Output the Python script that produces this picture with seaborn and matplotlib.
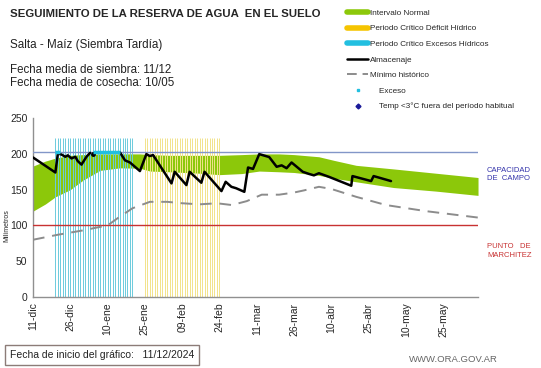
import numpy as np
import pandas as pd
import matplotlib.pyplot as plt
from matplotlib.lines import Line2D
import seaborn as sns

# days counted from 11/12/2024
tick_days = [0, 15, 30, 45, 60, 75, 90, 105, 120, 135, 150, 165]
tick_labels = ["11-dic", "26-dic", "10-ene", "25-ene", "09-feb", "24-feb",
               "11-mar", "26-mar", "10-abr", "25-abr", "10-may", "25-may"]

# intervalo normal (banda verde)
band_days = [0, 5, 9, 15, 20, 27, 35, 43, 47, 55, 67, 75, 84, 91, 99, 105, 115, 121, 130, 145, 162, 179]
band_upper = [183, 190, 194, 198, 199, 200, 200, 200, 199, 198, 198, 198, 199, 200, 200, 199, 196, 191, 184, 179, 173, 167]
band_lower = [120, 130, 140, 150, 163, 177, 180.5, 180, 176, 175, 173, 171, 172.5, 176, 175, 174, 170, 166, 161, 153, 148, 142]

# minimo historico
min_days = [0, 10, 20, 27, 30, 34, 40, 47, 54, 60, 67, 74, 80, 86, 92, 99, 105, 109, 115, 120, 130, 142, 158, 179]
min_vals = [80, 87, 93, 98, 100, 110, 124, 133, 133, 131, 129.5, 131, 128.5, 134, 143, 143, 146, 149, 154, 151, 140, 128.5, 120, 111]

# almacenaje (dos tramos, interrumpidos por el exceso)
alm1_days = [0, 9, 10, 11.5, 13, 14, 15.5, 17, 18, 19.5, 21.5, 23]
alm1_vals = [195, 174, 200.7, 199, 196, 198, 193.7, 196, 190, 185, 196, 201.5]
alm2_days = [35, 37, 39, 43, 45.6, 47, 48.3, 55.7, 57, 61.7, 63, 67.7, 69, 75.8, 77.5, 79.8,
             81.7, 85, 86.5, 88.5, 91, 95, 98, 100, 102, 104, 108.5, 111, 113, 115, 119,
             128, 128.5, 136, 137, 144]
alm2_vals = [202, 191, 188, 176, 199.7, 197, 198.4, 158.8, 175, 156.4, 175, 159.7, 175, 148, 161, 154,
             152, 147, 181, 179, 199.7, 195.6, 182, 184, 180, 188, 175, 172, 170, 173, 168,
             155.5, 169, 162, 169, 162]

# excesos
exc_days = [[9, 11], [24, 35]]
exc_vals = [[202.5, 202.5], [202.5, 202.5]]

# periodos criticos
exc_period = (9, 40)
def_period = (45, 75)
period_top = 222

capacidad = 202
marchitez = 100

sns.set_style("white")
plt.rcParams["font.family"] = ["Liberation Sans", "DejaVu Sans"]

fig = plt.figure(figsize=(5.41, 3.68), dpi=100)
ax = fig.add_axes([0.061, 0.193, 0.8226, 0.486])

green = "#8cc80a"
cyan = "#6ccbdc"
yellow = "#f2e38a"

ax.fill_between(band_days, band_lower, band_upper, color=green, lw=0, zorder=1)
ax.vlines(np.arange(exc_period[0], exc_period[1] + 1), 0, period_top, color=cyan, lw=0.7, zorder=2)
ax.vlines(np.arange(def_period[0], def_period[1] + 1), 0, period_top, color=yellow, lw=0.7, zorder=2)

ax.axhline(capacidad, color="#8296c8", lw=1.0, zorder=3)
ax.axhline(marchitez, color="#c83232", lw=1.0, zorder=3)

sns.lineplot(x=min_days, y=min_vals, ax=ax, color="#8c8c8c", lw=1.4, zorder=4)
ax.lines[-1].set_dashes([6, 4])
sns.lineplot(x=alm1_days, y=alm1_vals, ax=ax, color="black", lw=1.8, zorder=5)
sns.lineplot(x=alm2_days, y=alm2_vals, ax=ax, color="black", lw=1.8, zorder=5)
ax.plot([24], [200], "o", color="black", ms=2.5, zorder=5)
for d, v in zip(exc_days, exc_vals):
    ax.plot(d, v, color="#22bfe0", lw=2.5, zorder=5, solid_capstyle="butt")

ax.set_xlim(0, 179)
ax.set_ylim(0, 250)
ax.set_yticks([0, 50, 100, 150, 200, 250])
ax.set_xticks(tick_days)
ax.set_xticklabels(tick_labels, rotation=90)
ax.tick_params(axis="both", labelsize=7.5, length=3, color="#808080", pad=1)
for s in ["top", "right"]:
    ax.spines[s].set_visible(False)
for s in ["left", "bottom"]:
    ax.spines[s].set_color("#909090")
    ax.spines[s].set_linewidth(1.0)
ax.set_xlabel("")
ax.set_ylabel("Milímetros", fontsize=5)
ax.yaxis.set_label_coords(-0.05, 0.4)

ax.text(1.02, 0.684, "CAPACIDAD\nDE  CAMPO", transform=ax.transAxes, fontsize=5.5,
        color="#3333aa", va="center", ha="left", linespacing=1.25)
ax.text(1.02, 0.257, "PUNTO   DE\nMARCHITEZ", transform=ax.transAxes, fontsize=5.5,
        color="#c83232", va="center", ha="left", linespacing=1.25)

fig.text(10 / 541, 1 - 14 / 368, "SEGUIMIENTO DE LA RESERVA DE AGUA  EN EL SUELO",
         fontsize=8.2, fontweight="bold", va="center")
fig.text(10 / 541, 1 - 45 / 368, "Salta - Maíz (Siembra Tardía)", fontsize=8.4, va="center", color="#222222")
fig.text(10 / 541, 1 - 70 / 368, "Fecha media de siembra: 11/12", fontsize=8.3, va="center", color="#222222")
fig.text(10 / 541, 1 - 83 / 368, "Fecha media de cosecha: 10/05", fontsize=8.3, va="center", color="#222222")

handles = [
    Line2D([], [], color=green, lw=4),
    Line2D([], [], color="#f5c400", lw=4),
    Line2D([], [], color="#22bfe0", lw=4),
    Line2D([], [], color="black", lw=1.8),
    Line2D([], [], color="#8c8c8c", lw=1.4, dashes=[5, 3]),
    Line2D([], [], color="#22bfe0", marker="s", ms=2, lw=0),
    Line2D([], [], color="#1a1a99", marker="D", ms=2.5, lw=0),
]
labels = ["Intervalo Normal", "Periodo Crítico Déficit Hídrico", "Periodo Crítico Excesos Hídricos",
          "Almacenaje", "Mínimo histórico", "    Exceso", "    Temp <3°C fuera del período habitual"]
fig.legend(handles, labels, loc="upper left", bbox_to_anchor=(343 / 541, 1 - 5 / 368),
           frameon=False, fontsize=5.9, handlelength=2.6, handletextpad=0.2,
           labelspacing=0.96, borderpad=0)

fig.text(10 / 541, 1 - 355 / 368, "Fecha de inicio del gráfico:   11/12/2024", fontsize=7.5,
         va="center", color="#222222",
         bbox=dict(boxstyle="square,pad=0.45", fc="white", ec="#8c7c78", lw=1))
fig.text(498 / 541, 1 - 360 / 368, "WWW.ORA.GOV.AR", fontsize=6.8, va="center", ha="right", color="#666666")

fig.savefig("out.png", dpi=100)
